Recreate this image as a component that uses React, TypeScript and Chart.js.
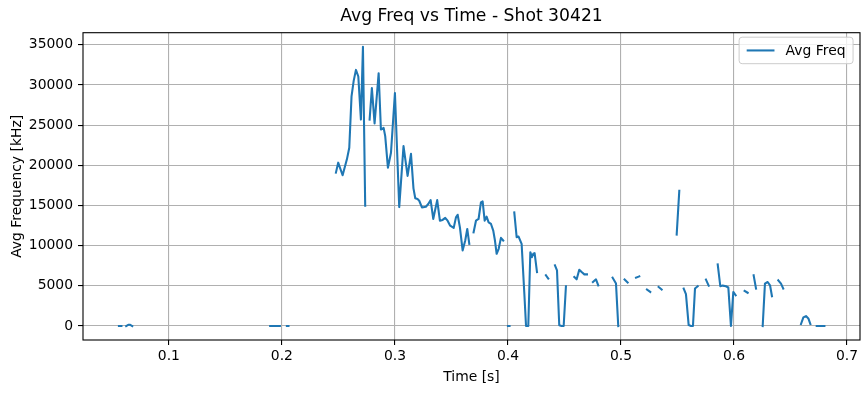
import { useEffect, useRef } from "react";
import { Chart, registerables } from "chart.js";

Chart.register(...registerables);

// Time samples [s] (null frequency = gap in the trace)
const times: number[] = [
  0.0558, 0.058, 0.0595,
  0.0622, 0.064, 0.0658, 0.0676, 0.07,
  0.1896, 0.1918, 0.194, 0.1962, 0.1982, 0.201,
  0.2044, 0.2058, 0.22,
  0.2478, 0.2498, 0.2537, 0.2575, 0.2596, 0.2616, 0.2635, 0.2655, 0.2676, 0.2699, 0.2717, 0.2737, 0.2756,
  0.2776, 0.2796, 0.282, 0.2856, 0.2876, 0.29, 0.2914, 0.2938, 0.2965, 0.3, 0.3038, 0.3076, 0.3112, 0.3142,
  0.3164, 0.318, 0.32, 0.3215, 0.3239, 0.3274, 0.3295, 0.3316, 0.3339, 0.3374, 0.3398, 0.3422, 0.3445,
  0.3466, 0.3489, 0.352, 0.354, 0.3555, 0.3575, 0.3599, 0.3622, 0.364, 0.3658, 0.3677,
  0.3696, 0.3717, 0.374, 0.3761, 0.3776, 0.3794, 0.3811, 0.3829, 0.385, 0.387, 0.3885, 0.39, 0.3918,
  0.3938, 0.3958, 0.398,
  0.4, 0.4014, 0.403,
  0.4056, 0.4077, 0.4094, 0.4121, 0.4145, 0.416, 0.418, 0.4198, 0.4212, 0.4224, 0.4236, 0.4257, 0.43,
  0.4336, 0.4357, 0.439,
  0.4416, 0.4434, 0.4454, 0.4475, 0.4493, 0.4513, 0.455,
  0.4587, 0.4608, 0.4631, 0.4652, 0.4676, 0.4699, 0.4725,
  0.4752, 0.4779, 0.4799, 0.486,
  0.4926, 0.4956, 0.4976, 0.5005,
  0.5032, 0.5059, 0.51,
  0.5133, 0.5162, 0.52,
  0.523, 0.5259, 0.53,
  0.5333, 0.536, 0.543,
  0.5493, 0.5516, 0.5535,
  0.5555, 0.5575, 0.5599, 0.562, 0.5637, 0.5655, 0.5679, 0.572,
  0.5752, 0.5776, 0.582,
  0.5856, 0.5879, 0.59, 0.5929, 0.595, 0.5973, 0.5994, 0.6015, 0.606,
  0.6094, 0.6121, 0.615,
  0.6174, 0.6195, 0.623,
  0.6254, 0.6274, 0.6298, 0.6319, 0.6336, 0.637,
  0.6392, 0.6416, 0.6436, 0.652,
  0.6593, 0.6614, 0.6637, 0.6658, 0.6676, 0.67,
  0.6732, 0.6755, 0.6778, 0.68,
];

// Average frequency [kHz]
const freqs: (number | null)[] = [
  0, 0, null,
  0, 150, 150, 0, null,
  0, 0, 0, 0, 0, null,
  0, 0, null,
  19090, 20330, 18760, 20740, 22180, 28575, 30500, 31870, 31050, 25690, 34760, 14970, null,
  25690, 29600, 25200, 31460, 24450, 24650, 23630, 19700, 21560, 28990, 14800, 22390, 18680, 21420,
  17130, 15900, 15800, 15590, 14760, 14840, 15180, 15670, 13320, 15670, 13110, 13200, 13450,
  13110, 12490, 12210, 13520, 13850, 12280, 9400, 10640, 12080, 10230, null,
  11660, 13110, 13320, 15380, 15500, 13110, 13610, 12900, 12700, 11880, 10640, 8990, 9610,
  10970, 10640, null,
  0, 0, null,
  14140, 11050, 11130, 10230, 4040, 0, 0, 9190, 8570, 8990, 9070, 6720, null,
  6310, 5900, null,
  7550, 6930, 100, 0, 0, 4950, null,
  6100, 5810, 7010, 6720, 6430, 6430, null,
  5480, 5810, 5070, null,
  6020, 5280, 0, null,
  5780, 5420, null,
  6020, 6180, null,
  4540, 4240, null,
  4860, 4540, null,
  11380, 16820, null,
  4660, 3960, 120, 0, 0, 4660, 4950, null,
  5780, 5030, null,
  7670, 4950, 5030, 4950, 4790, 0, 4240, 3830, null,
  4370, 4140, null,
  6310, 4660, null,
  0, 5280, 5480, 5070, 3710, null,
  5690, 5280, 4660, null,
  250, 1080, 1240, 950, 250, null,
  0, 0, 0, 0,
];

const xTicks: number[] = [0.1, 0.2, 0.3, 0.4, 0.5, 0.6, 0.7];
const xTickLabels: string[] = ["0.1", "0.2", "0.3", "0.4", "0.5", "0.6", "0.7"];
const yTicks: number[] = [0, 5000, 10000, 15000, 20000, 25000, 30000, 35000];
const yTickLabels: string[] = ["0", "5000", "10000", "15000", "20000", "25000", "30000", "35000"];

const seriesLabel = "Avg Freq";
const titleText = "Avg Freq vs Time - Shot 30421";
const xTitle = "Time [s]";
const yTitle = "Avg Frequency [kHz]";

const LINE_COLOR = "#1f77b4";
const FONT = "DejaVu Sans";
const FS = 13.9;
const TITLE_FS = 17.2;

const framePlugin = {
  id: "frameAndLegend",
  afterDraw(chart: any) {
    const { ctx, chartArea } = chart;
    const { left, top, right, bottom } = chartArea;
    ctx.save();
    ctx.strokeStyle = "#000";
    ctx.lineWidth = 1.1;
    ctx.strokeRect(left, top, right - left, bottom - top);

    // title centred over the axes
    ctx.font = `${TITLE_FS}px "${FONT}"`;
    ctx.fillStyle = "#000";
    ctx.textAlign = "center";
    ctx.textBaseline = "middle";
    ctx.fillText(titleText, (left + right) / 2, 17);

    // legend (matplotlib style, upper right)
    ctx.font = `${FS}px "${FONT}"`;
    const tw = ctx.measureText(seriesLabel).width;
    const pad = 0.4 * FS;
    const axPad = 0.5 * FS;
    const handleLen = 2 * FS;
    const handlePad = 0.8 * FS;
    const boxW = pad * 2 + handleLen + handlePad + tw + 4;
    const boxH = 26.5;
    const bx = right - axPad - boxW;
    const by = top + 4.5;
    ctx.beginPath();
    (ctx as any).roundRect(bx, by, boxW, boxH, 3);
    ctx.fillStyle = "rgba(255,255,255,0.8)";
    ctx.fill();
    ctx.strokeStyle = "#cccccc";
    ctx.lineWidth = 1;
    ctx.stroke();
    const cy = by + boxH / 2;
    ctx.beginPath();
    ctx.moveTo(bx + pad + 2, cy);
    ctx.lineTo(bx + pad + 2 + handleLen, cy);
    ctx.strokeStyle = LINE_COLOR;
    ctx.lineWidth = 2.08;
    ctx.stroke();
    ctx.fillStyle = "#000";
    ctx.textBaseline = "middle";
    ctx.textAlign = "left";
    ctx.fillText(seriesLabel, bx + pad + 2 + handleLen + handlePad, cy + 0.5);
    ctx.restore();
  },
};

export default function App() {
  const canvasRef = useRef<HTMLCanvasElement | null>(null);

  useEffect(() => {
    const canvas = canvasRef.current;
    if (!canvas) return;
    const points = times.map((t, i) => ({ x: t, y: freqs[i] }));
    const chart = new Chart(canvas, {
      type: "line",
      data: {
        datasets: [
          {
            label: seriesLabel,
            data: points as any,
            borderColor: LINE_COLOR,
            backgroundColor: LINE_COLOR,
            borderWidth: 2.08,
            pointRadius: 0,
            pointHoverRadius: 0,
            tension: 0,
            spanGaps: false,
            borderCapStyle: "square",
            borderJoinStyle: "round",
            fill: false,
          },
        ],
      },
      options: {
        responsive: false,
        animation: false,
        events: [],
        layout: { padding: { left: 0, right: 8, top: 32.7, bottom: 0 } },
        plugins: {
          legend: { display: false },
          tooltip: { enabled: false },
          title: { display: false },
        },
        scales: {
          x: {
            type: "linear",
            min: 0.024,
            max: 0.7115,
            afterBuildTicks: (scale: any) => {
              scale.ticks = xTicks.map((v) => ({ value: v }));
            },
            afterFit: (scale: any) => {
              scale.height = 53;
            },
            ticks: {
              color: "#000",
              font: { family: FONT, size: FS },
              padding: 3,
              maxRotation: 0,
              autoSkip: false,
              callback: (v: any) => {
                const i = xTicks.findIndex((t) => Math.abs(t - v) < 1e-9);
                return i >= 0 ? xTickLabels[i] : "";
              },
            },
            grid: {
              color: "#b0b0b0",
              lineWidth: 1.1,
              tickColor: "#000",
              tickLength: 5,
              tickWidth: 1.1,
            },
            border: { display: false },
            title: {
              display: true,
              text: xTitle,
              color: "#000",
              font: { family: FONT, size: FS },
              padding: { top: 0, bottom: 7.7 },
            },
          },
          y: {
            type: "linear",
            min: -1738,
            max: 36498,
            afterBuildTicks: (scale: any) => {
              scale.ticks = yTicks.map((v) => ({ value: v }));
            },
            afterFit: (scale: any) => {
              scale.width = 83;
            },
            ticks: {
              color: "#000",
              font: { family: FONT, size: FS },
              padding: 5,
              autoSkip: false,
              callback: (v: any) => {
                const i = yTicks.indexOf(v);
                return i >= 0 ? yTickLabels[i] : "";
              },
            },
            grid: {
              color: "#b0b0b0",
              lineWidth: 1.1,
              tickColor: "#000",
              tickLength: 5,
              tickWidth: 1.1,
            },
            border: { display: false },
            title: {
              display: true,
              text: yTitle,
              color: "#000",
              font: { family: FONT, size: FS },
              padding: { top: 8.7, bottom: 0 },
            },
          },
        },
      },
      plugins: [framePlugin],
    });
    return () => chart.destroy();
  }, []);

  return (
    <div style={{ position: "fixed", left: 0, top: 0, width: 868, height: 393, background: "#fff" }}>
      <canvas ref={canvasRef} width={868} height={393} style={{ display: "block", width: 868, height: 393 }} />
    </div>
  );
}
